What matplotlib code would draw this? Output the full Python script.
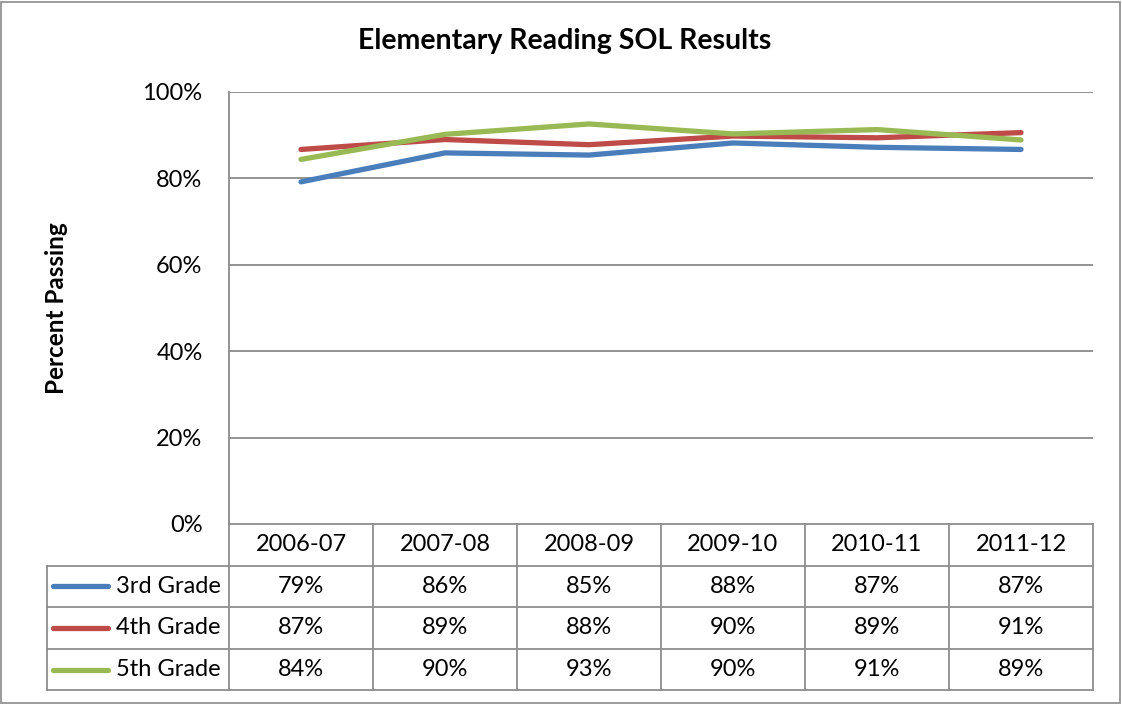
import matplotlib.pyplot as plt
from matplotlib.patches import Rectangle
from matplotlib.lines import Line2D
import matplotlib.transforms as mtransforms

plt.rcParams['font.family'] = ['Lato', 'DejaVu Sans']

# data
years = ["2006-07", "2007-08", "2008-09", "2009-10", "2010-11", "2011-12"]
grades = ["3rd Grade", "4th Grade", "5th Grade"]
grade3 = [79.2, 85.9, 85.4, 88.2, 87.2, 86.7]
grade4 = [86.7, 89.0, 87.8, 89.8, 89.4, 90.6]
grade5 = [84.4, 90.2, 92.6, 90.3, 91.3, 88.9]
colors = ["#4A7EBB", "#BE4B48", "#98B954"]
series = [grade3, grade4, grade5]

W, H = 1122, 704
fs = 17
fig = plt.figure(figsize=(W / 100, H / 100), dpi=100)
fig.patches.append(Rectangle((1 / W, 1 / H), (W - 3) / W, (H - 3) / H,
                             transform=fig.transFigure, fill=False,
                             edgecolor="#8A8A8A", linewidth=1.2))

ax = fig.add_axes([229 / W, (H - 524) / H, 864 / W, 432 / H])
x = list(range(len(years)))
for vals, c in zip(series, colors):
    ax.plot(x, vals, color=c, linewidth=3.8, solid_capstyle="round", zorder=3)

ax.set_xlim(-0.5, len(years) - 0.5)
ax.set_ylim(0, 100)
ax.set_yticks([0, 20, 40, 60, 80, 100])
ax.set_yticklabels([f"{v}%" for v in [0, 20, 40, 60, 80, 100]], fontsize=fs)
ax.tick_params(axis="y", length=0, pad=19)
ax.set_xticks([])
for v in [20, 40, 60, 80, 100]:
    ax.axhline(v, color="#8A8A8A", linewidth=1.3, zorder=1)
for s in ["top", "right", "bottom"]:
    ax.spines[s].set_visible(False)
ax.spines["left"].set_color("#8A8A8A")
ax.spines["left"].set_linewidth(1.3)

fig.text(565 / W, 1 - 41 / H, "Elementary Reading SOL Results",
         ha="center", va="center", fontsize=20.5, fontweight="bold")
fig.text(56 / W, 1 - 308 / H, "Percent Passing", rotation=90,
         ha="center", va="center", fontsize=17.5, fontweight="bold")

# data table below the plot
tc = "#8E8E8E"
rh = 41.6 / 432
trans = mtransforms.blended_transform_factory(ax.transData, ax.transAxes)
x_left_legend = -0.5 - (229 - 47) / 144
nrows = len(grades)
bottom = -rh * (nrows + 1)

# horizontal lines
ax.add_line(Line2D([-0.5, 5.5], [0, 0], transform=trans, color=tc, lw=1.3, clip_on=False))
for r in range(1, nrows + 2):
    ax.add_line(Line2D([x_left_legend, 5.5], [-rh * r, -rh * r], transform=trans,
                       color=tc, lw=1.3, clip_on=False))
# vertical lines
for i in range(len(years) + 1):
    ax.add_line(Line2D([i - 0.5, i - 0.5], [0, bottom], transform=trans,
                       color=tc, lw=1.3, clip_on=False))
ax.add_line(Line2D([x_left_legend, x_left_legend], [-rh, bottom], transform=trans,
                   color=tc, lw=1.3, clip_on=False))

for i, yr in enumerate(years):
    ax.text(i, -rh * 0.5, yr, transform=trans, ha="center", va="center", fontsize=fs)
for r, (g, vals, c) in enumerate(zip(grades, series, colors)):
    yc = -rh * (r + 1.5)
    for i, v in enumerate(vals):
        ax.text(i, yc, f"{round(v)}%", transform=trans, ha="center", va="center", fontsize=fs)
    ax.add_line(Line2D([x_left_legend + 6 / 144, x_left_legend + 61 / 144], [yc, yc],
                       transform=trans, color=c, lw=3.8, solid_capstyle="round",
                       clip_on=False))
    ax.text(-0.5 - 8 / 144, yc, g, transform=trans, ha="right", va="center", fontsize=fs)

fig.savefig("out.png", dpi=100)
